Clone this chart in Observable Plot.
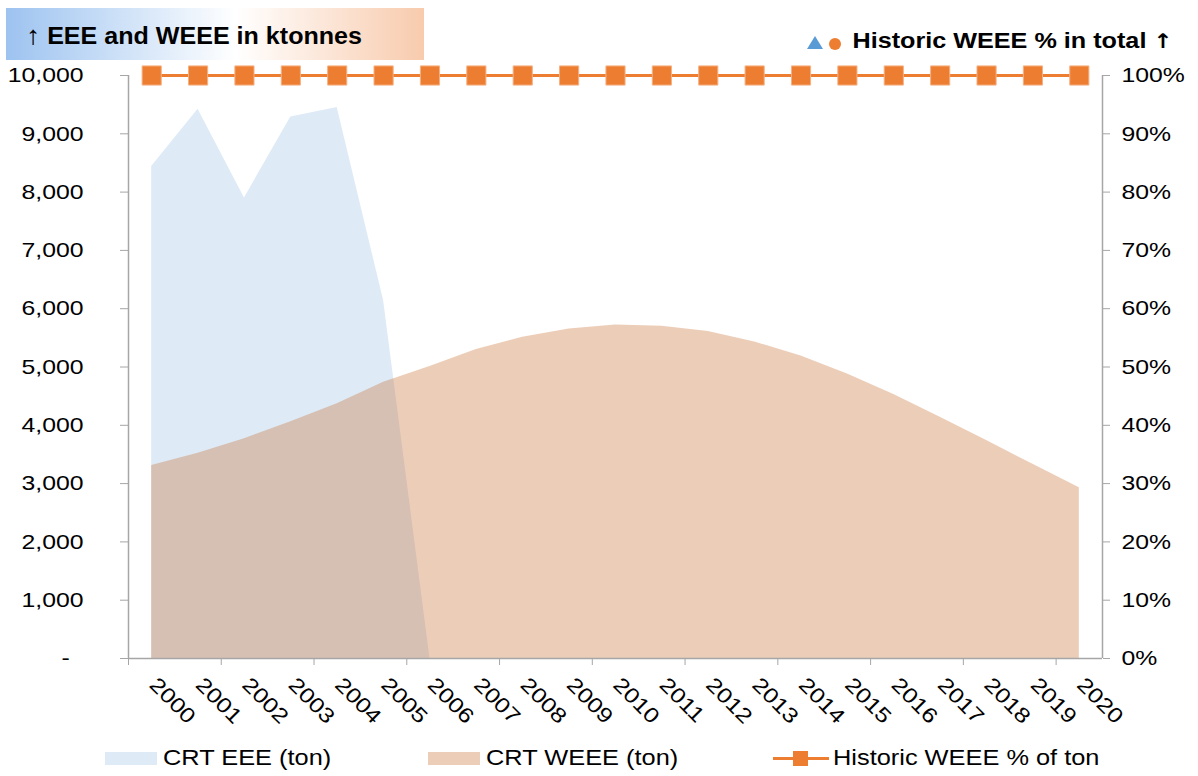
<!DOCTYPE html>
<html><head><meta charset="utf-8">
<script src="https://cdn.jsdelivr.net/npm/d3@7"></script>
<script src="https://cdn.jsdelivr.net/npm/@observablehq/plot@0.6"></script>
<style>
body{margin:0;background:#fff;font-family:"Liberation Sans",Arial,sans-serif;color:#000;}
#wrap{width:1198px;}
#head{position:relative;height:60px;}
#tbox{position:absolute;left:6px;top:8px;width:418px;height:52px;background:linear-gradient(to right,#9DC3F0 0%,#ffffff 55%,#F8CBAD 100%);}
.t{position:absolute;white-space:nowrap;line-height:1;}
#tleft{left:26px;top:22px;font-weight:bold;font-size:23px;transform:scaleX(1.09);transform-origin:left center;}
#tleft .ar{font-weight:normal;font-size:26px;}
#tright{right:25px;top:30px;font-weight:bold;font-size:22px;transform:scaleX(1.145);transform-origin:right center;}
#tright .ar{font-family:"DejaVu Sans",sans-serif;font-weight:bold;font-size:20px;}
#sym{position:absolute;left:805px;top:34px;}
#legend{position:relative;height:36px;}
.sw{position:absolute;top:12px;width:52px;height:13px;}
.lt{font-size:21.5px;top:8px;transform:scaleX(1.18);transform-origin:left center;}
</style>
</head><body>
<div id="wrap">
  <div id="head">
    <div id="tbox"></div>
    <div class="t" id="tleft"><span class="ar">↑</span> EEE and WEEE in ktonnes</div>
    <svg id="sym" width="40" height="18"><polygon points="2,15 10,2 18,15" fill="#5B9BD5"/><circle cx="30" cy="10" r="6" fill="#ED7D31"/></svg>
    <div class="t" id="tright">Historic WEEE % in total <span class="ar">↑</span></div>
  </div>
  <div id="chart"></div>
  <div id="legend">
    <div class="sw" style="left:105px;background:#DEEBF7"></div>
    <div class="t lt" style="left:163px">CRT EEE (ton)</div>
    <div class="sw" style="left:428px;background:#C87034;opacity:0.35"></div>
    <div class="t lt" style="left:486px">CRT WEEE (ton)</div>
    <div style="position:absolute;left:773px;top:16.5px;width:56px;height:3px;background:#ED7D31"></div>
    <div style="position:absolute;left:793px;top:10.5px;width:15px;height:15px;background:#ED7D31"></div>
    <div class="t lt" style="left:833px">Historic WEEE % of ton</div>
  </div>
</div>
<script>
const years = [2000,2001,2002,2003,2004,2005,2006,2007,2008,2009,2010,2011,2012,2013,2014,2015,2016,2017,2018,2019,2020];
const crtEEE = [8440,9420,7900,9290,9450,6140,0,0,0,0,0,0,0,0,0,0,0,0,0,0,0];
const crtWEEE = [3310,3520,3770,4060,4370,4740,5010,5300,5510,5650,5720,5700,5610,5430,5190,4880,4530,4140,3740,3330,2930];
const historicPct = [100,100,100,100,100,100,100,100,100,100,100,100,100,100,100,100,100,100,100,100,100];
const yTicks = [0,1000,2000,3000,4000,5000,6000,7000,8000,9000,10000];

const data = years.map((year,i)=>({year, eee: crtEEE[i], weee: crtWEEE[i], pct: historicPct[i]}));
const xTickVals = years.filter((d,i)=> i%2===0).map(d=>d-0.5);
const fmt = d3.format(",");
const axisColor = "#A6A6A6";

const chart = Plot.plot({
  width:1198, height:680,
  marginLeft:128, marginRight:96, marginTop:15, marginBottom:82,
  style:{fontFamily:'"Liberation Sans", Arial, sans-serif', fontSize:"21px", color:"#000", background:"#fff", overflow:"visible"},
  x:{type:"linear", domain:[1999.5,2020.5]},
  y:{domain:[0,10000]},
  marks:[
    Plot.areaY(data,{x:"year",y:"eee",fill:"#DEEBF7"}),
    Plot.areaY(data,{x:"year",y:"weee",fill:"#C87034",fillOpacity:0.35}),
    Plot.ruleX([1999.5, 2020.5],{stroke:axisColor,strokeWidth:1.5}),
    Plot.ruleY([0],{stroke:axisColor,strokeWidth:1.5}),
    Plot.axisY(yTicks,{tickSize:8, tickPadding:37, tickFormat:d=> d===0?"-\u2007":fmt(d), stroke:axisColor, fill:"#000", label:null}),
    Plot.axisY(yTicks,{anchor:"right", tickSize:7, tickPadding:12, tickFormat:d=>`${d/100}%`, stroke:axisColor, fill:"#000", label:null}),
    Plot.axisX(xTickVals,{tickSize:7, tickFormat:()=>"", stroke:axisColor, label:null}),
    Plot.axisX(years,{tickSize:0, tickPadding:17, dx:7, tickRotate:45, textAnchor:"start", lineAnchor:"top", tickFormat:d=>String(d), fill:"#000", label:null}),
    Plot.line(data,{x:"year", y:d=>d.pct*100, stroke:"#ED7D31", strokeWidth:3}),
    Plot.dot(data,{x:"year", y:d=>d.pct*100, symbol:"square", r:10.8, fill:"#ED7D31", stroke:"#F4B183", strokeWidth:1})
  ]
});
document.getElementById("chart").append(chart);
chart.querySelectorAll("text").forEach(t=>{
  const L = t.getComputedTextLength();
  if (L>0){ t.setAttribute("textLength", L*1.18); t.setAttribute("lengthAdjust","spacingAndGlyphs"); }
});
</script>
</body></html>
